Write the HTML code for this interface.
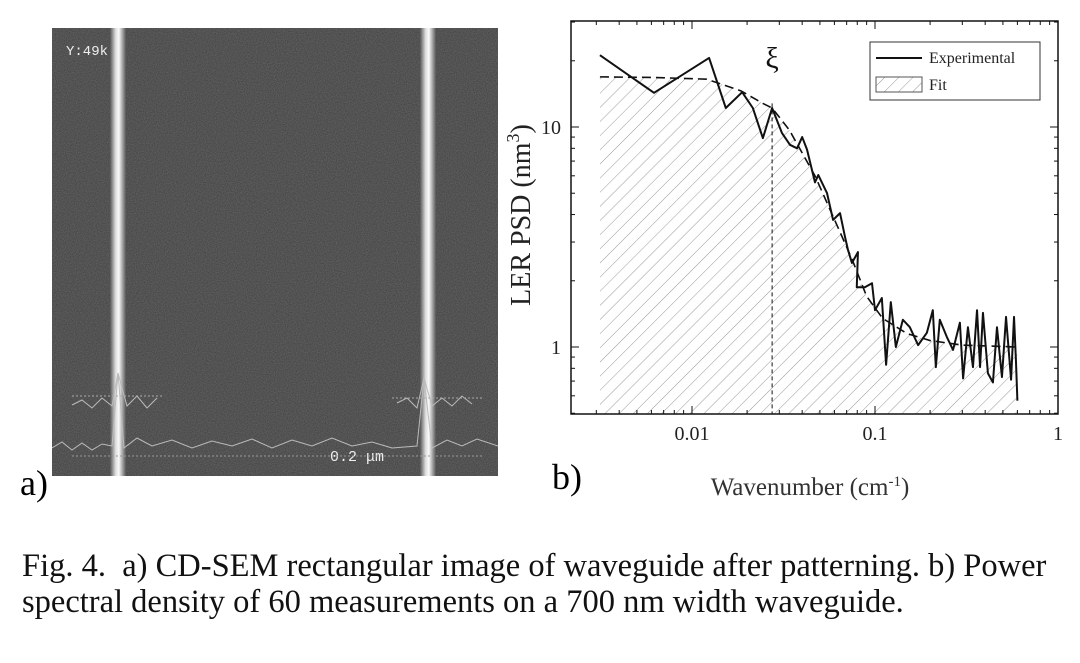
<!DOCTYPE html>
<html><head><meta charset="utf-8"><style>
body{margin:0;width:1080px;height:663px;background:#fff;overflow:hidden;position:relative;font-family:"Liberation Serif",serif}
.cap{position:absolute;left:22px;font-size:32.5px;color:#111;white-space:nowrap}
</style></head><body>
<svg style="position:absolute;left:52px;top:28px" width="446" height="448">
<defs>
<filter id="noise"><feTurbulence type="fractalNoise" baseFrequency="0.9" numOctaves="2" seed="3"/><feColorMatrix type="matrix" values="0 0 0 0 0.3 0 0 0 0 0.3 0 0 0 0 0.3 0 0 0 0.5 0"/></filter>
<linearGradient id="ln" x1="0" x2="1"><stop offset="0" stop-color="#555"/><stop offset="0.35" stop-color="#ddd"/><stop offset="0.55" stop-color="#fafafa"/><stop offset="1" stop-color="#555"/></linearGradient>
</defs>
<rect width="446" height="448" fill="#3d3d3d"/>
<rect width="446" height="448" filter="url(#noise)"/>
<rect x="58" width="16" height="448" fill="url(#ln)"/>
<rect x="368" width="16" height="448" fill="url(#ln)"/>
<text x="14" y="27" fill="#eee" font-family="Liberation Mono" font-size="14">Y:49k</text>
<text x="278" y="433" fill="#eee" font-family="Liberation Mono" font-size="15">0.2 μm</text>
<polyline points="0,420 10,414 20,422 30,415 40,422 50,416 60,418 66,345 72,420 85,410 100,418 120,412 140,420 160,413 180,418 200,411 220,420 240,412 260,418 280,410 300,418 320,414 340,420 365,418 372,350 380,420 395,412 410,418 425,411 446,418" fill="none" stroke="#bbb" stroke-width="1"/>
<polyline points="20,377 30,372 40,380 50,370 60,378 66,345 75,378 85,368 95,380 105,370" fill="none" stroke="#bbb" stroke-width="1"/>
<polyline points="345,375 355,370 365,380 372,350 380,378 390,370 400,378 410,368 420,376" fill="none" stroke="#bbb" stroke-width="1"/>
<line x1="20" y1="368" x2="110" y2="368" stroke="#aaa" stroke-dasharray="2 2"/>
<line x1="340" y1="370" x2="430" y2="370" stroke="#aaa" stroke-dasharray="2 2"/>
<line x1="20" y1="428" x2="430" y2="428" stroke="#999" stroke-dasharray="2 2"/>
</svg>
<div style="position:absolute;left:20px;top:462px;font-size:36px">a)</div>
<div style="position:absolute;left:552px;top:456px;font-size:36px">b)</div>
<svg id="chart" style="position:absolute;left:0;top:0" width="1080" height="520"></svg>
<div class="cap" style="top:548px">Fig. 4.&nbsp; a) CD-SEM rectangular image of waveguide after patterning. b) Power</div>
<div class="cap" style="top:584px">spectral density of 60 measurements on a 700 nm width waveguide.</div>
<script>
const expX=[0.00314,0.0062,0.0124,0.0153,0.0188,0.0215,0.0244,0.0274,0.031,0.0343,0.0375,0.040,0.0425,0.047,0.049,0.0547,0.059,0.0644,0.0686,0.0712,0.0748,0.0807,0.0795,0.088,0.0963,0.100,0.109,0.115,0.122,0.130,0.142,0.155,0.172,0.192,0.207,0.215,0.226,0.247,0.267,0.291,0.303,0.322,0.343,0.361,0.375,0.389,0.414,0.441,0.464,0.494,0.520,0.554,0.575,0.589,0.60];
const expY=[21.2,14.3,20.6,12.2,14.4,12.2,8.9,12.2,9.4,8.3,8.0,9.0,7.9,5.6,6.05,5.0,3.78,4.06,3.16,2.76,2.41,2.70,1.87,1.87,1.95,1.47,1.67,0.83,1.60,1.0,1.33,1.23,1.02,1.16,1.47,0.81,1.33,1.11,0.97,1.29,0.72,1.23,0.81,1.47,0.81,1.43,0.76,0.69,1.23,0.73,1.37,0.71,1.37,0.87,0.57];
const fitX=[0.00314,0.006,0.012,0.0185,0.0244,0.0274,0.034,0.047,0.06,0.075,0.09,0.11,0.15,0.2,0.3,0.6];
const fitY=[16.9,16.8,16.5,14.6,12.8,12.2,9.7,6.0,3.8,2.5,1.7,1.35,1.15,1.07,1.02,1.0];
const xiVal=0.0274;
const xTicks=[0.01,0.1,1], xTickLabels=["0.01","0.1","1"];
const yTicks=[1,10], yTickLabels=["1","10"];
const L=571,R=1058,T=21,B=414;
const X=v=>692+(Math.log10(v)+2)*183;
const Y=v=>347-Math.log10(v)*220;
const NS="http://www.w3.org/2000/svg", svg=document.getElementById('chart');
function mk(t,a,p){const e=document.createElementNS(NS,t);for(const k in a)e.setAttribute(k,a[k]);(p||svg).appendChild(e);return e;}
const defs=mk('defs',{});
const pat=mk('pattern',{id:'hatch',patternUnits:'userSpaceOnUse',width:10,height:10,patternTransform:'rotate(45)'},defs);
mk('line',{x1:0,y1:0,x2:0,y2:10,stroke:'#999','stroke-width':1},pat);
let d='M'+X(fitX[0])+','+B;
fitX.forEach((v,i)=>d+=' L'+X(v)+','+Y(fitY[i]));
d+=' L'+X(fitX[fitX.length-1])+','+B+'Z';
let e=mk('path',{d:d,fill:'url(#hatch)',stroke:'none'});


e=mk('rect',{x:L,y:T,width:R-L,height:B-T,fill:'none',stroke:'#111','stroke-width':1.5});


for(let dec=-3;dec<=-1;dec++)for(let m=1;m<10;m++){const v=m*Math.pow(10,dec);const x=X(v);if(x<L||x>R)continue;const len=m==1?8:4;
mk('line',{x1:x,y1:B,x2:x,y2:B-len,stroke:'#111'});mk('line',{x1:x,y1:T,x2:x,y2:T+len,stroke:'#111'});}
xTicks.forEach((v,i)=>{const x=X(v);mk('line',{x1:x,y1:B,x2:x,y2:B-8,stroke:'#111'});mk('line',{x1:x,y1:T,x2:x,y2:T+8,stroke:'#111'});
e=mk('text',{x:x,y:B+26,'text-anchor':'middle','font-size':20,fill:'#222'});e.textContent=xTickLabels[i];

});
for(let dec=-1;dec<=1;dec++)for(let m=1;m<10;m++){const v=m*Math.pow(10,dec);const y=Y(v);if(y<T||y>B)continue;const len=m==1?8:4;
mk('line',{x1:L,y1:y,x2:L+len,y2:y,stroke:'#111'});mk('line',{x1:R,y1:y,x2:R-len,y2:y,stroke:'#111'});}
yTicks.forEach((v,i)=>{const y=Y(v);
e=mk('text',{x:L-10,y:y+7,'text-anchor':'end','font-size':20,fill:'#222'});e.textContent=yTickLabels[i];

});
e=mk('polyline',{points:fitX.map((v,i)=>X(v)+','+Y(fitY[i])).join(' '),fill:'none',stroke:'#111','stroke-width':1.6,'stroke-dasharray':'9 5'});


e=mk('polyline',{points:expX.map((v,i)=>X(v)+','+Y(expY[i])).join(' '),fill:'none',stroke:'#111','stroke-width':2,'stroke-linejoin':'round'});


const xi=X(xiVal);
e=mk('line',{x1:xi,y1:Y(12.8),x2:xi,y2:B,stroke:'#111','stroke-dasharray':'4 3'});


e=mk('text',{x:xi,y:68,'text-anchor':'middle','font-size':30,fill:'#111'});e.textContent='ξ';


const lg=mk('g',{});


mk('rect',{x:870,y:42,width:170,height:58,fill:'#fff',stroke:'#333','stroke-width':1},lg);
mk('line',{x1:876,y1:58,x2:922,y2:58,stroke:'#111','stroke-width':2},lg);
let t=mk('text',{x:929,y:63,'font-size':16,fill:'#222'},lg);t.textContent='Experimental';
mk('rect',{x:876,y:77,width:46,height:15,fill:'url(#hatch)',stroke:'#555'},lg);
t=mk('text',{x:929,y:90,'font-size':16,fill:'#222'},lg);t.textContent='Fit';
e=mk('text',{x:0,y:0,'font-size':28,fill:'#222','text-anchor':'middle',transform:'translate(530,215) rotate(-90)'});
e.innerHTML='LER PSD (nm<tspan dy="-11" font-size="18">3</tspan><tspan dy="11">)</tspan>';


e=mk('text',{x:810,y:495,'font-size':25,fill:'#333','text-anchor':'middle'});
e.innerHTML='Wavenumber (cm<tspan dy="-9" font-size="15">-1</tspan><tspan dy="9">)</tspan>';


</script>
</body></html>
